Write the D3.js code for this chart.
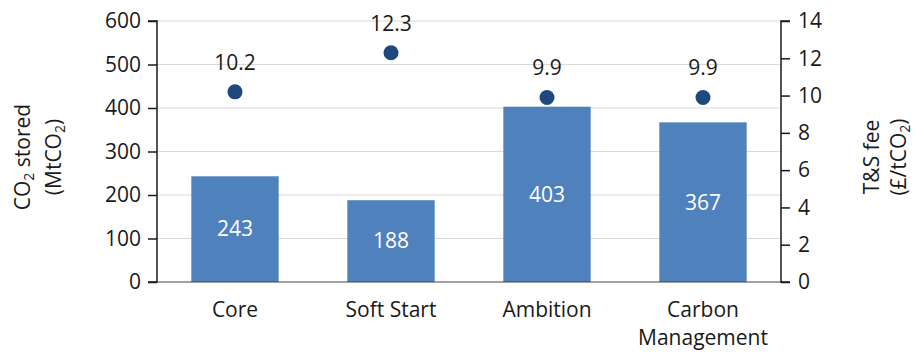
<!DOCTYPE html>
<html><head><meta charset="utf-8">
<script src="https://cdn.jsdelivr.net/npm/d3@7"></script>
<style>body{margin:0;background:#fff}svg{display:block}text{font-family:"Open Sans",sans-serif}</style>
</head><body>
<script>
const categories = ["Core", "Soft Start", "Ambition", "Carbon Management"];
const stored = [243, 188, 403, 367];
const fee = [10.2, 12.3, 9.9, 9.9];
const leftTicks = [0, 100, 200, 300, 400, 500, 600];
const rightTicks = [0, 2, 4, 6, 8, 10, 12, 14];

const W = 917, H = 354;
const m = {left: 157, right: 917 - 781, top: 21, bottom: 354 - 282};
const svg = d3.select("body").append("svg").attr("width", W).attr("height", H);
const x = d3.scaleBand().domain(categories).range([m.left, W - m.right]).paddingInner(0.44).paddingOuter(0.22);
const yL = d3.scaleLinear().domain([0, 600]).range([H - m.bottom, m.top]);
const yR = d3.scaleLinear().domain([0, 14]).range([H - m.bottom, m.top]);
const fs = 21;
const ink = "#1a1a1a";

// gridlines
svg.append("g").selectAll("line").data(leftTicks.slice(1)).join("line")
  .attr("x1", m.left).attr("x2", W - m.right)
  .attr("y1", d => yL(d)).attr("y2", d => yL(d))
  .attr("stroke", "#d9d9d9").attr("stroke-width", 1.2);

// bars
svg.append("g").selectAll("rect").data(categories).join("rect")
  .attr("x", d => x(d)).attr("width", x.bandwidth())
  .attr("y", (d, i) => yL(stored[i])).attr("height", (d, i) => yL(0) - yL(stored[i]))
  .attr("fill", "#4f81bd");

svg.append("g").selectAll("text").data(categories).join("text")
  .attr("x", d => x(d) + x.bandwidth() / 2)
  .attr("y", (d, i) => (yL(stored[i]) + yL(0)) / 2)
  .attr("dy", "0.35em").attr("text-anchor", "middle").attr("fill", "#fff")
  .attr("font-size", fs).text((d, i) => stored[i]);

// axes
const gL = svg.append("g").attr("transform", `translate(${m.left},0)`)
  .call(d3.axisLeft(yL).tickValues(leftTicks).tickSize(9).tickPadding(7));
const gR = svg.append("g").attr("transform", `translate(${W - m.right},0)`)
  .call(d3.axisRight(yR).tickValues(rightTicks).tickSize(9).tickPadding(8));
[gL, gR].forEach(g => {
  g.select(".domain").attr("stroke", ink).attr("stroke-width", 1.5);
  g.selectAll(".tick line").attr("stroke", ink).attr("stroke-width", 1.5);
  g.selectAll(".tick text").attr("font-size", fs).attr("fill", ink).style("font-family", '"Open Sans",sans-serif');
});
gL.select(".domain").attr("d", `M-9,${yL(600)}H0V${yL(0)}H-9`);
gR.select(".domain").attr("d", `M9,${yR(14)}H0V${yR(0)}H9`);

// x axis baseline
svg.append("line").attr("x1", m.left).attr("x2", W - m.right)
  .attr("y1", yL(0)).attr("y2", yL(0)).attr("stroke", "#444").attr("stroke-width", 1.2);

// x labels
const xl = svg.append("g").selectAll("text").data(categories).join("text")
  .attr("x", d => x(d) + x.bandwidth() / 2).attr("y", 317)
  .attr("text-anchor", "middle").attr("font-size", fs).attr("fill", ink);
xl.each(function(d) {
  const parts = d === "Carbon Management" ? ["Carbon", "Management"] : [d];
  const t = d3.select(this);
  parts.forEach((p, i) => t.append("tspan").attr("x", x(d) + x.bandwidth() / 2).attr("dy", i ? 28 : 0).text(p));
});

// dots
svg.append("g").selectAll("circle").data(categories).join("circle")
  .attr("cx", d => x(d) + x.bandwidth() / 2).attr("cy", (d, i) => yR(fee[i]))
  .attr("r", 7.5).attr("fill", "#1f497d");
svg.append("g").selectAll("text").data(categories).join("text")
  .attr("x", d => x(d) + x.bandwidth() / 2).attr("y", (d, i) => yR(fee[i]) - 22)
  .attr("text-anchor", "middle").attr("font-size", fs).attr("fill", ink)
  .text((d, i) => fee[i].toFixed(1));

// axis titles
function title(cx, cy, lines, gap) {
  const t = svg.append("text").attr("transform", `translate(${cx},${cy}) rotate(-90)`)
    .attr("text-anchor", "middle").attr("font-size", fs).attr("fill", ink);
  lines.forEach((ln, i) => {
    const ts = t.append("tspan").attr("x", 0).attr("y", i * gap);
    let prevSub = false;
    ln.forEach(([s, sub]) => {
      if (sub) { ts.append("tspan").attr("font-size", 14).attr("dy", 4).text(s); prevSub = true; }
      else { ts.append("tspan").attr("dy", prevSub ? -4 : 0).text(s); prevSub = false; }
    });
  });
}
title(30, 157, [[["CO", 0], ["2", 1], [" stored", 0]], [["(MtCO", 0], ["2", 1], [")", 0]]], 31);
title(879, 157, [[["T&S fee", 0]], [["(£/tCO", 0], ["2", 1], [")", 0]]], 27);
</script>
</body></html>
